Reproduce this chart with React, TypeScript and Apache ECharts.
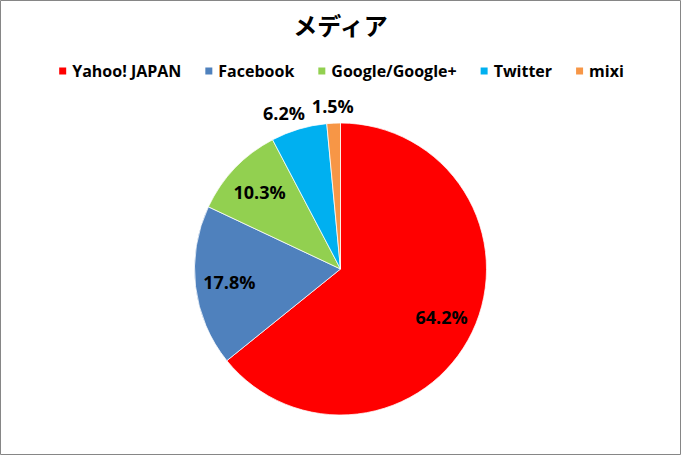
import React, { useEffect, useRef } from "react";
import * as echarts from "echarts";

const TITLE = "メディア";
const CATEGORIES = ["Yahoo! JAPAN", "Facebook", "Google/Google+", "Twitter", "mixi"];
const VALUES = [64.2, 17.8, 10.3, 6.2, 1.5];
const COLORS = ["#FF0000", "#4F81BD", "#92D050", "#00B0F0", "#F79646"];
const OUTSIDE_LABEL = [false, false, false, true, true];

const LABEL_FONT = "'Open Sans', 'Noto Sans', sans-serif";

export default function App() {
  const ref = useRef<HTMLDivElement>(null);
  useEffect(() => {
    if (!ref.current) return;
    const chart = echarts.init(ref.current, undefined, { renderer: "svg" });
    const center = [340.5, 269];
    const labelStyle = {
      color: "#000",
      fontFamily: LABEL_FONT,
      fontWeight: "bold" as const,
      fontSize: 18,
    };
    const mainData = CATEGORIES.map((name, i) => ({
      name,
      value: VALUES[i],
      itemStyle: { color: COLORS[i] },
    }));
    const overlayData = (outside: boolean) =>
      CATEGORIES.map((name, i) => ({
        name,
        value: VALUES[i],
        label: {
          show: OUTSIDE_LABEL[i] === outside,
          offset: outside && i === 3 ? [-10, 0] : [0, 0],
        },
      }));
    const overlay = (radius: number[], outside: boolean) => ({
      type: "pie",
      center,
      radius,
      silent: true,
      startAngle: 90,
      clockwise: true,
      legendHoverLink: false,
      itemStyle: { color: "transparent", borderWidth: 0 },
      emphasis: { disabled: true },
      label: {
        show: true,
        position: "inside",
        formatter: (p: any) => p.value.toFixed(1) + "%",
        ...labelStyle,
      },
      labelLine: { show: false },
      data: overlayData(outside),
    });
    chart.setOption({
      animation: false,
      backgroundColor: "#fff",
      title: {
        text: TITLE,
        left: "center",
        top: 7,
        textStyle: {
          fontFamily: "'Noto Sans CJK JP', sans-serif",
          fontWeight: "bold",
          fontSize: 24,
          color: "#000",
        },
      },
      legend: {
        data: CATEGORIES,
        top: 58,
        left: "center",
        icon: "rect",
        itemWidth: 9,
        itemHeight: 9,
        itemGap: 22,
        selectedMode: false,
        textStyle: {
          fontFamily: LABEL_FONT,
          fontWeight: "bold",
          fontSize: 16,
          color: "#000",
        },
      },
      graphic: [
        {
          type: "rect",
          shape: { x: 0.5, y: 0.5, width: 680, height: 454 },
          style: { fill: "none", stroke: "#868686", lineWidth: 1 },
          silent: true,
        },
      ],
      series: [
        {
          type: "pie",
          center,
          radius: [0, 146],
          startAngle: 90,
          clockwise: true,
          silent: true,
          itemStyle: { borderColor: "#fff", borderWidth: 0.75 },
          label: { show: false },
          labelLine: { show: false },
          emphasis: { disabled: true },
          data: mainData,
        },
        overlay([72, 146], false),
        overlay([146, 174], true),
      ],
    });
    return () => chart.dispose();
  }, []);
  return (
    <div
      ref={ref}
      style={{ position: "absolute", left: 0, top: 0, width: 681, height: 455 }}
    />
  );
}
